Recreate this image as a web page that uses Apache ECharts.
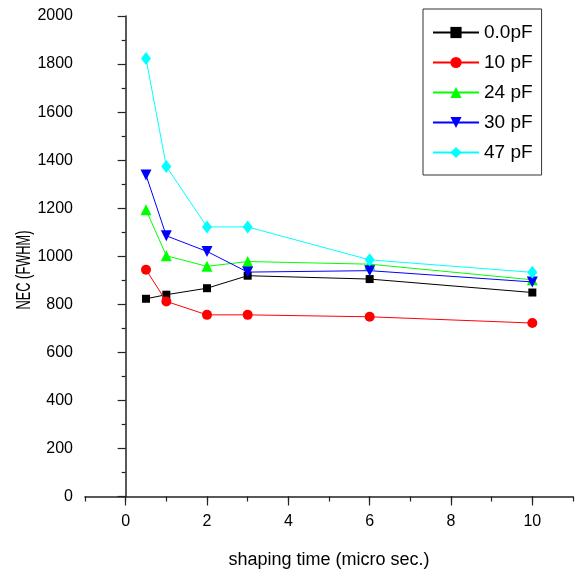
<!DOCTYPE html>
<html>
<head>
<meta charset="utf-8">
<script src="https://cdn.jsdelivr.net/npm/echarts@6/dist/echarts.min.js"></script>
<style>html,body{margin:0;padding:0;background:#fff}#c{width:579px;height:576px}</style>
</head>
<body>
<div id="c"></div>
<script>
const shapingTime = [0.5, 1, 2, 3, 6, 10];
const seriesNames = ['0.0pF', '10 pF', '24 pF', '30 pF', '47 pF'];
const nec00 = [823, 840, 867, 919, 905, 849];
const nec10 = [944, 812, 756, 756, 748, 722];
const nec24 = [1194, 1002, 958, 978, 967, 902];
const nec30 = [1338, 1085, 1020, 934, 940, 893];
const nec47 = [1823, 1374, 1122, 1122, 985, 933];
const yTicks = [0, 200, 400, 600, 800, 1000, 1200, 1400, 1600, 1800, 2000];
const xTicks = [0, 2, 4, 6, 8, 10];

const FONT = "'Liberation Sans', Arial, sans-serif";
const colors = ['#000000', '#ff0000', '#00ff00', '#0000ff', '#00ffff'];
const symbols = ['rect', 'circle', 'triangle', 'triangle', 'diamond'];
const sizes = [8, 10, 11, 11, [10, 13]];
const rotates = [0, 0, 0, 180, 0];
const values = [nec00, nec10, nec24, nec30, nec47];

const chart = echarts.init(document.getElementById('c'));
const axisColor = '#222';
chart.setOption({
  animation: false,
  textStyle: { fontFamily: FONT },
  grid: { left: 85, right: 6, top: 16, bottom: 79.5, containLabel: false },
  legend: {
    left: 423, top: 9, orient: 'vertical',
    padding: [14, 9, 13, 9],
    itemWidth: 46, itemHeight: 14, itemGap: 11,
    borderColor: '#333', borderWidth: 1,
    textStyle: { fontFamily: FONT, fontSize: 19, color: '#000', lineHeight: 19 },
    data: seriesNames
  },
  xAxis: [{
    type: 'value', min: -1, max: 11, interval: 1, position: 'bottom',
    splitLine: { show: false },
    axisLine: { lineStyle: { color: axisColor, width: 1.5 } },
    axisTick: { length: 5, lineStyle: { color: axisColor, width: 1.2 } },
    axisLabel: { customValues: xTicks, formatter: v => String(v), fontFamily: FONT, fontSize: 16, color: '#000', margin: 17 },
    name: 'shaping time (micro sec.)', nameLocation: 'middle', nameGap: 55,
    nameTextStyle: { fontFamily: FONT, fontSize: 18, color: '#000' }
  }, {
    type: 'value', min: -1, max: 11, interval: 1, position: 'bottom',
    splitLine: { show: false },
    axisLine: { show: false },
    axisTick: { customValues: xTicks, length: 9, lineStyle: { color: axisColor, width: 1.2 } },
    axisLabel: { show: false }
  }],
  yAxis: {
    type: 'value', min: 0, max: 2000, interval: 200,
    splitLine: { show: false },
    axisLine: { show: true, lineStyle: { color: axisColor, width: 1.5 } },
    axisTick: { show: true, length: 8, lineStyle: { color: axisColor, width: 1.2 } },
    minorTick: { show: true, splitNumber: 2, length: 4, lineStyle: { color: axisColor, width: 1.2 } },
    axisLabel: { customValues: yTicks, formatter: v => String(v), fontFamily: FONT, fontSize: 16, color: '#000', margin: 12 }
  },
  graphic: [{
    type: 'text', x: 24, y: 270, rotation: Math.PI / 2, scaleX: 0.64,
    style: { text: 'NEC (FWHM)', fontFamily: FONT, fontSize: 20, fill: '#000', align: 'center', verticalAlign: 'middle' }
  }],
  series: seriesNames.map((n, i) => ({
    name: n, type: 'line', xAxisIndex: 0,
    data: shapingTime.map((x, j) => [x, values[i][j]]),
    symbol: symbols[i], symbolSize: sizes[i], symbolRotate: rotates[i],
    showAllSymbol: true,
    lineStyle: { color: colors[i], width: 1 },
    itemStyle: { color: colors[i], borderWidth: 0 },
    z: 2 + i
  }))
});
</script>
</body>
</html>
